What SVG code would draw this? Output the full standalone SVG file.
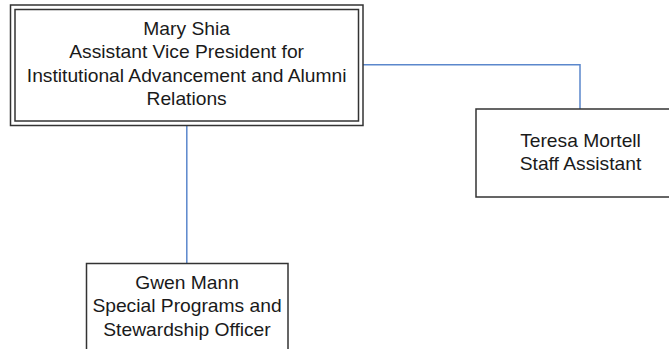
<svg xmlns="http://www.w3.org/2000/svg" width="669" height="349" viewBox="0 0 669 349">
  <style>
    .box { fill: #ffffff; stroke: #333333; stroke-width: 1.5; }
    .link { fill: none; stroke: #5b87cc; stroke-width: 1.5; }
    .label { font-family: "Liberation Sans", Arial, sans-serif; font-size: 17.5px; fill: #1a1a1a; text-anchor: middle; }
  </style>
  <rect x="0" y="0" width="669" height="349" fill="#ffffff"/>

  <g id="connectors">
    <polyline class="link" points="363,64.8 580,64.8 580,109"/>
    <line class="link" x1="186.8" y1="126" x2="186.8" y2="263.5"/>
  </g>

  <g id="mary-shia">
    <rect class="box" x="10.5" y="5" width="352.5" height="120.5"/>
    <rect class="box" x="15" y="9.5" width="343.5" height="111.5"/>
    <g transform="translate(186.6,0) scale(1.1,1)">
      <text class="label" x="0" y="35">Mary Shia</text>
      <text class="label" x="0" y="58.5">Assistant Vice President for</text>
      <text class="label" x="0" y="82">Institutional Advancement and Alumni</text>
      <text class="label" x="0" y="105">Relations</text>
    </g>
  </g>

  <g id="teresa-mortell">
    <rect class="box" x="476" y="109" width="210" height="88"/>
    <g transform="translate(580.5,0) scale(1.1,1)">
      <text class="label" x="0" y="147.3">Teresa Mortell</text>
      <text class="label" x="0" y="170">Staff Assistant</text>
    </g>
  </g>

  <g id="gwen-mann">
    <rect class="box" x="86.5" y="263.5" width="201.5" height="100"/>
    <g transform="translate(187,0) scale(1.1,1)">
      <text class="label" x="0" y="289">Gwen Mann</text>
      <text class="label" x="0" y="312">Special Programs and</text>
      <text class="label" x="0" y="336">Stewardship Officer</text>
    </g>
  </g>
</svg>
